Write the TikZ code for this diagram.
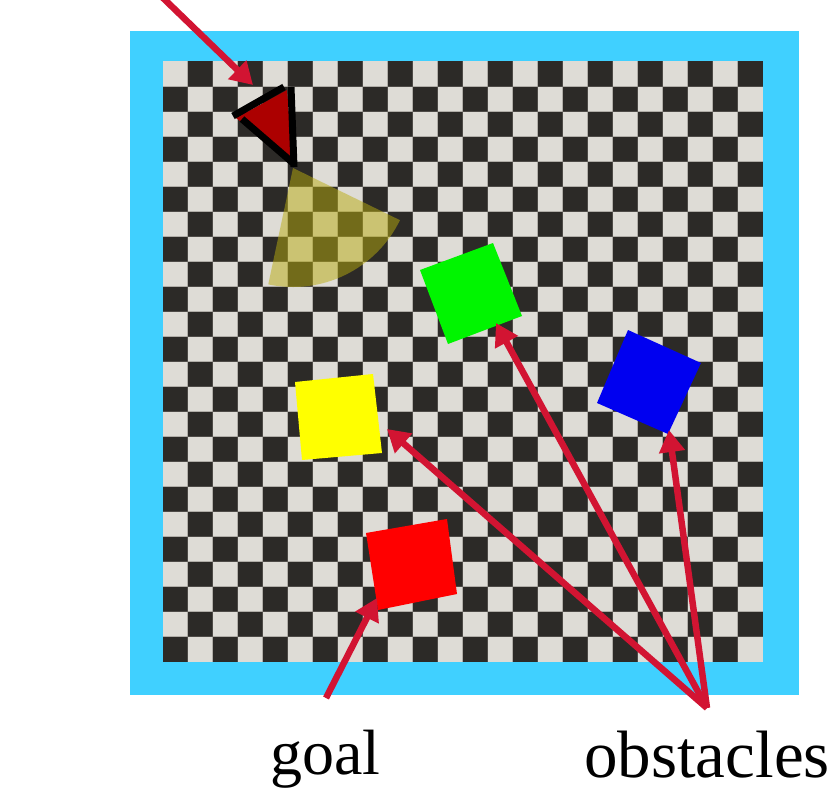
\documentclass[tikz,border=0pt]{standalone}
\usepackage{fontspec}
\setmainfont{Liberation Serif}
\usetikzlibrary{arrows.meta}
\definecolor{skyb}{RGB}{64,208,255}
\definecolor{lightc}{RGB}{222,220,214}
\definecolor{darkc}{RGB}{44,42,39}
\definecolor{groutc}{RGB}{120,116,110}
\definecolor{fovc}{RGB}{185,172,15}
\definecolor{agentc}{RGB}{172,0,0}
\definecolor{arrowc}{RGB}{210,20,50}
\definecolor{obgreen}{RGB}{0,245,0}
\definecolor{obblue}{RGB}{0,0,240}
\definecolor{obyellow}{RGB}{255,255,0}
\definecolor{goalred}{RGB}{255,0,0}
\begin{document}
\begin{tikzpicture}[x=1pt,y=-1pt,
  redarrow/.style={draw=arrowc, line width=6.5pt, -{Triangle[length=22pt,width=25pt]}, arrowc},
  blackedge/.style={draw=black, line width=7pt},
  label/.style={anchor=base west, inner sep=0pt}]
\useasboundingbox (0,0) rectangle (830,792);
% border and board
\fill[skyb] (130,31) rectangle (799,695);
\fill[lightc] (162.5,61.5) rectangle (762.5,661.5);
\foreach \i in {0,...,23} {
  \foreach \j in {0,...,23} {
    \pgfmathtruncatemacro\cpar{mod(\i+\j,2)}
    \ifnum\cpar=1
      \fill[darkc] ({162.5+25*\i},{61.5+25*\j}) rectangle ++(25,25);
    \fi
  }
}
\foreach \k in {1,...,23} {
  \draw[groutc, line width=1pt, opacity=0.45] ({162.5+25*\k},61.5) -- ({162.5+25*\k},661.5);
  \draw[groutc, line width=1pt, opacity=0.45] (162.5,{61.5+25*\k}) -- (762.5,{61.5+25*\k});
}
% field of view
\fill[fovc, opacity=0.5] (293,168) -- ++(26:119) arc[start angle=26, end angle=102, radius=119] -- cycle;
% obstacles and goal
\fill[obgreen] (420,270) -- (493,243) -- (522,316) -- (448,344) -- cycle;
\fill[obblue] (628,330) -- (701,363) -- (668,434) -- (597,403) -- cycle;
\fill[obyellow] (295,382) -- (373,374) -- (382,453) -- (302,460) -- cycle;
\fill[goalred] (366,533) -- (447,519) -- (457,594) -- (378,610) -- cycle;
% agent
\fill[agentc] (236,118) -- (287,90) -- (293,163) -- cycle;
\draw[blackedge] (233,116) -- (284,87);
\draw[blackedge] (291,87) -- (294,167);
\draw[blackedge] (242,119) -- (293,163);
% arrow end points
\coordinate (atail) at (161,-4);
\coordinate (atip) at (253,85);
\coordinate (gtail) at (326,698);
\coordinate (gtip) at (377,598);
\coordinate (ob) at (707,708);
\coordinate (tyellow) at (387,429);
\coordinate (tgreen) at (496,323);
\coordinate (tblue) at (669,430);
\draw[redarrow] (atail) -- (atip);
\draw[redarrow] (gtail) -- (gtip);
\draw[redarrow] (ob) -- (tyellow);
\draw[redarrow] (ob) -- (tgreen);
\draw[redarrow] (ob) -- (tblue);
% labels
\node[label, font=\fontsize{64}{70}\selectfont] (goal) at (270,774) {goal};
\node[label, font=\fontsize{67}{72}\selectfont] (obstacles) at (584,777) {obstacles};
\end{tikzpicture}
\end{document}
